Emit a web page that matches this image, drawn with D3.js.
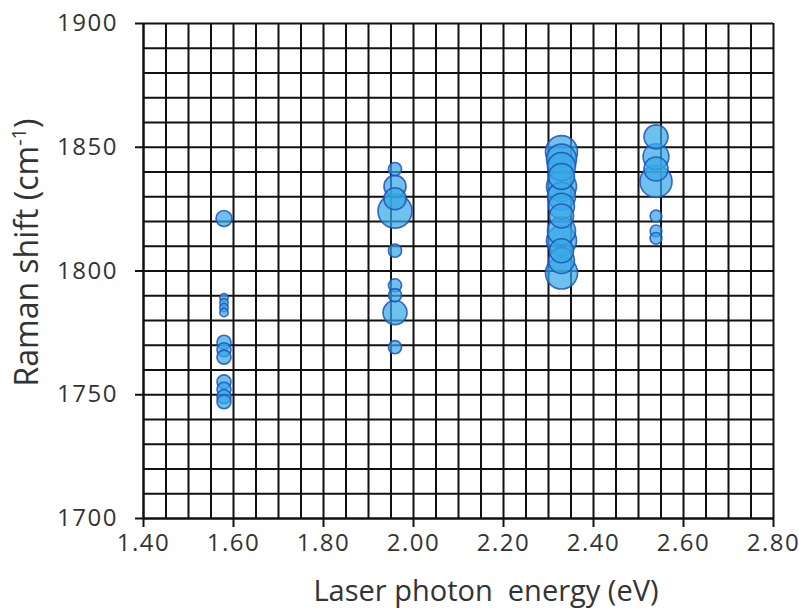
<!DOCTYPE html>
<html>
<head>
<meta charset="utf-8">
<script src="https://cdn.jsdelivr.net/npm/d3@7"></script>
<style>
  body { margin: 0; background: #fff; }
  text { font-family: "Open Sans", sans-serif; fill: #333; }
</style>
</head>
<body>
<div id="chart"></div>
<script>
// Raman shift vs laser photon energy (bubble chart)
// one set of arrays per laser line, size = bubble size value
const energy785 = 1.58;
const shifts785 = [1821, 1789, 1787, 1785, 1783, 1771, 1768, 1765, 1755, 1752, 1749, 1747];
const sizes785  = [22, 6, 6, 6, 6, 17, 17, 17, 17, 17, 17, 17];

const energy633 = 1.96;
const shifts633 = [1841, 1834, 1829, 1824, 1808, 1794, 1790, 1783, 1769];
const sizes633  = [15, 42, 42, 100, 15, 15, 15, 50, 15];

const energy532 = 2.33;
const shifts532 = [1848, 1845, 1842, 1838, 1834, 1830, 1826, 1822, 1816, 1812, 1808, 1804, 1799];
const sizes532  = [89, 78, 68, 58, 78, 68, 58, 50, 68, 78, 50, 58, 89];

const energy488 = 2.54;
const shifts488 = [1854, 1846, 1841, 1836, 1822, 1816, 1813];
const sizes488  = [50, 58, 50, 89, 12, 12, 12];

const xTicks = [1.40, 1.60, 1.80, 2.00, 2.20, 2.40, 2.60, 2.80];
const yTicks = [1700, 1750, 1800, 1850, 1900];

// build point list from the arrays
const groups = [
  [energy785, shifts785, sizes785],
  [energy633, shifts633, sizes633],
  [energy532, shifts532, sizes532],
  [energy488, shifts488, sizes488]
];
const points = [];
groups.forEach(function(g) {
  g[1].forEach(function(s, i) {
    points.push({ e: g[0], shift: s, size: g[2][i] });
  });
});

const margin = { top: 23, right: 26, bottom: 91, left: 143 };
const width = 630;
const height = 495;

const svg = d3.select("#chart").append("svg")
  .attr("width", width + margin.left + margin.right)
  .attr("height", height + margin.top + margin.bottom)
  .append("g")
  .attr("transform", `translate(${margin.left},${margin.top})`);

const x = d3.scaleLinear().domain([1.40, 2.80]).range([0, width]);
const y = d3.scaleLinear().domain([1700, 1900]).range([height, 0]);
const r = d3.scaleSqrt().domain([0, 100]).range([0, 17]);

// grid lines every 0.05 eV and every 10 cm-1
svg.append("g")
  .attr("class", "grid")
  .call(d3.axisBottom(x).tickValues(d3.range(0, 29).map(i => 1.40 + i * 0.05))
    .tickSize(height).tickFormat(""))
  .call(g => g.select(".domain").remove());

svg.append("g")
  .attr("class", "grid")
  .call(d3.axisLeft(y).tickValues(d3.range(0, 21).map(i => 1700 + i * 10))
    .tickSize(-width).tickFormat(""))
  .call(g => g.select(".domain").remove());

svg.selectAll(".grid line")
  .attr("stroke", "#111")
  .attr("stroke-width", 2);

// axes with outward ticks
const xAxis = svg.append("g")
  .attr("transform", `translate(0,${height})`)
  .call(d3.axisBottom(x).tickValues(xTicks).tickSize(9).tickPadding(7)
    .tickSizeOuter(0).tickFormat(d3.format(".2f")));

const yAxis = svg.append("g")
  .call(d3.axisLeft(y).tickValues(yTicks).tickSize(8).tickPadding(17)
    .tickSizeOuter(0).tickFormat(d3.format("d")));

[xAxis, yAxis].forEach(function(a) {
  a.selectAll("line, path").attr("stroke", "#111").attr("stroke-width", 2);
  a.selectAll("text")
    .style("font-size", "24px")
    .style("letter-spacing", "1.5px")
    .attr("fill", "#333");
});

// bubbles, biggest first
svg.append("g")
  .selectAll("circle")
  .data(points.slice().sort((a, b) => b.size - a.size))
  .enter()
  .append("circle")
  .attr("cx", d => x(d.e))
  .attr("cy", d => y(d.shift))
  .attr("r", d => r(d.size))
  .attr("fill", "#36a9e6")
  .attr("fill-opacity", 0.72)
  .attr("stroke", "#2150bb")
  .attr("stroke-opacity", 0.85)
  .attr("stroke-width", 1.6);

// axis titles
svg.append("text")
  .attr("x", width / 2 + 28)
  .attr("y", height + 83)
  .attr("text-anchor", "middle")
  .style("font-size", "29px")
  .style("white-space", "pre")
  .text("Laser photon  energy (eV)");

const yTitle = svg.append("text")
  .attr("transform", `translate(${-105},${height / 2 - 18}) rotate(-90)`)
  .attr("text-anchor", "middle")
  .style("font-size", "32px");
yTitle.append("tspan").text("Raman shift (cm");
yTitle.append("tspan").attr("dy", -12).style("font-size", "20px").text("-1");
yTitle.append("tspan").attr("dy", 12).text(")");
</script>
</body>
</html>
